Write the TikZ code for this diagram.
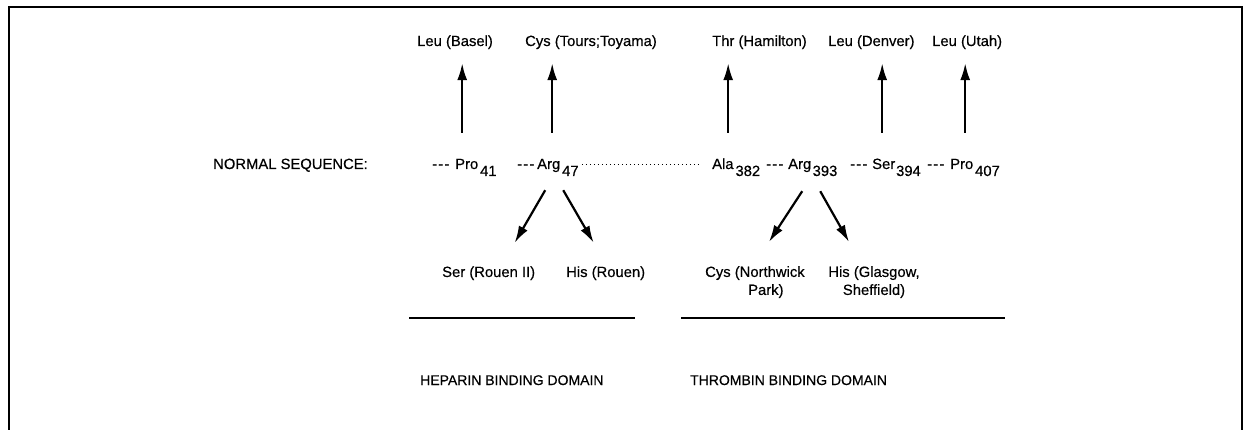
\documentclass[tikz,border=0pt]{standalone}
\usepackage{fontspec}
\setmainfont[FakeBold=0.4]{Liberation Sans}
\usetikzlibrary{arrows.meta}
\newcommand\fsz{\fontsize{14.8}{18}\selectfont}
\newcommand\dsz{\fontsize{14}{17}\selectfont}
\newcommand\tridash{-\kern1.2pt-\kern1.2pt-}
\begin{document}
\begin{tikzpicture}[x=1pt,y=-1pt,
  txt/.style={inner sep=0pt,text height=11pt,text depth=3pt,font=\fsz,anchor=base west},
  multi/.style={inner sep=0pt,font=\fsz,anchor=north},
  sub/.style={txt,anchor=base west},
  dom/.style={inner sep=0pt,font=\dsz,anchor=base west},
  arr/.style={line width=2.2pt,-{Latex[length=17pt,width=10pt]}},
  uparr/.style={arr,shorten >=14pt},
  dots/.style={line width=1pt,dash pattern=on 1.2pt off 2.8pt},
  bar/.style={line width=1.6pt},
  frame/.style={line width=2pt}]
\useasboundingbox (0,0) rectangle (1243,430);

% open frame
\draw[frame] (9,430) -- (9,7.5) -- (1241.5,7.5) -- (1241.5,430);

% variant labels above
\node[txt] (basel)    at (417,46) {Leu (Basel)};
\node[txt] (tours)    at (525,46) {Cys (Tours;Toyama)};
\node[txt] (hamilton) at (712,46) {Thr (Hamilton)};
\node[txt] (denver)   at (828,46) {Leu (Denver)};
\node[txt] (utah)     at (932,46) {Leu (Utah)};

% normal sequence row
\node[txt] (normal) at (213,169) {NORMAL SEQUENCE:};
\node[txt] (d1) at (432,169) {\tridash};
\node[txt] (pro41) at (455,169) {Pro};
\node[sub] (s41) at ([shift={(1.5,7)}]pro41.base east) {41};
\node[txt] (d2) at (517,169) {\tridash};
\node[txt] (arg47) at (537,169) {Arg};
\node[sub] (s47) at ([shift={(1.5,7)}]arg47.base east) {47};
\node[txt] (ala382) at (712,169) {Ala};
\node[sub] (s382) at ([shift={(1.5,7)}]ala382.base east) {382};
\node[txt] (d3) at (766,169) {\tridash};
\node[txt] (arg393) at (788,169) {Arg};
\node[sub] (s393) at ([shift={(1,7)}]arg393.base east) {393};
\node[txt] (d4) at (850,169) {\tridash};
\node[txt] (ser394) at (872,169) {Ser};
\node[sub] (s394) at ([shift={(0.5,7)}]ser394.base east) {394};
\node[txt] (d5) at (927,169) {\tridash};
\node[txt] (pro407) at (950,169) {Pro};
\node[sub] (s407) at ([shift={(1.5,7)}]pro407.base east) {407};

% dotted gap in the sequence
\draw[dots] ([shift={(3,-4)}]s47.base east |- arg47.base) -- ([shift={(-14,-4)}]ala382.base west);

% variant labels below
\node[txt] (serR) at (442,277) {Ser (Rouen II)};
\node[txt] (hisR) at (566,277) {His (Rouen)};
\node[inner sep=0pt,font=\fsz,align=left,anchor=north west] (cysNP) at (705,266)
  {Cys (Northwick\\\hspace*{43pt}Park)};
\node[multi,align=center] (hisG) at (874,266) {His (Glasgow,\\Sheffield)};

% substitutions pointing up
\draw[uparr] ([shift={(-4.5,-25)}]pro41.north) coordinate (u1) -- (u1 |- basel.south);
\draw[uparr] ([shift={(3.5,-25)}]arg47.north) coordinate (u2) -- (u2 |- tours.south);
\draw[uparr] ([shift={(5.3,-25)}]ala382.north) coordinate (u3) -- (u3 |- hamilton.south);
\draw[uparr] ([shift={(-1.5,-25)}]ser394.north) coordinate (u4) -- (u4 |- denver.south);
\draw[uparr] ([shift={(3.5,-25)}]pro407.north) coordinate (u5) -- (u5 |- utah.south);

% substitutions pointing down
\draw[arr] ([shift={(-3.5,18)}]arg47.south) -- ([shift={(26,-23)}]serR.north);
\draw[arr] ([shift={(14.5,18)}]arg47.south) -- ([shift={(-12,-23)}]hisR.north);
\draw[arr] ([shift={(2.5,19)}]arg393.south) -- ([shift={(14,-24)}]cysNP.north);
\draw[arr] ([shift={(20.5,19)}]arg393.south) -- ([shift={(-25,-24)}]hisG.north);

% domain bars and names
\draw[bar] (409,318) coordinate (hepL) -- (635,318) coordinate (hepR);
\draw[bar] (681,318) coordinate (thrL) -- (1005,318) coordinate (thrR);
\node[dom] (hep) at (420,385) {HEPARIN BINDING DOMAIN};
\node[dom] (thr) at (690,385) {THROMBIN BINDING DOMAIN};
\end{tikzpicture}
\end{document}
